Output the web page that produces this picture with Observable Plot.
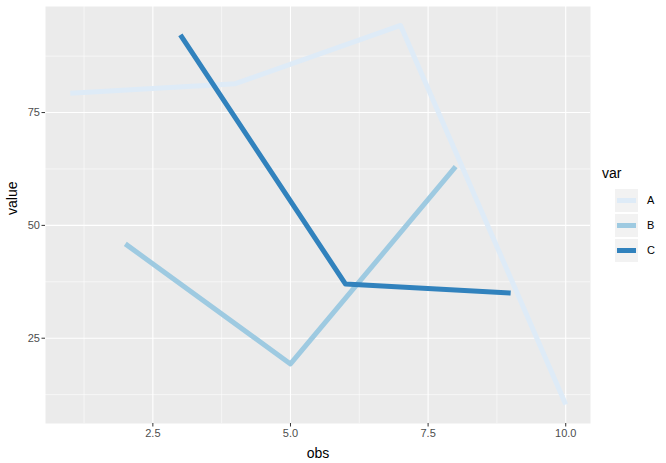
<!DOCTYPE html>
<html><head><meta charset="utf-8">
<script src="https://cdn.jsdelivr.net/npm/d3@7"></script>
<script src="https://cdn.jsdelivr.net/npm/@observablehq/plot@0.6"></script>
<style>
body{margin:0;background:#fff;font-family:"Liberation Sans",Arial,sans-serif}
#wrap{position:relative;width:666px;height:463px;overflow:hidden}
#legend{position:absolute;left:600px;top:160px;width:66px}
</style>
</head><body><div id="wrap"><div id="chart"></div><div id="legend"></div></div>
<script>
const series = ["A", "B", "C"];
const colors = ["#DEEBF7", "#9ECAE1", "#3182BD"];
const obsA = [1, 4, 7, 10];
const valA = [79.3, 81.4, 94.3, 10.3];
const obsB = [2, 5, 8];
const valB = [45.9, 19.3, 63.0];
const obsC = [3, 6, 9];
const valC = [92.2, 37.0, 35.0];
const xTicks = [2.5, 5, 7.5, 10];
const xTickLabels = ["2.5", "5.0", "7.5", "10.0"];
const xMinor = [1.25, 3.75, 6.25, 8.75];
const yTicks = [25, 50, 75];
const yMinor = [12.5, 37.5, 62.5, 87.5];

const data = [];
[[obsA, valA, "A"], [obsB, valB, "B"], [obsC, valC, "C"]].forEach(([xs, ys, k]) => {
  xs.forEach((x, i) => data.push({obs: x, value: ys[i], var: k}));
});
const xe = d3.extent(data, d => d.obs), ye = d3.extent(data, d => d.value);
const xpad = (xe[1] - xe[0]) * 0.05, ypad = (ye[1] - ye[0]) * 0.05;

const chart = Plot.plot({
  width: 666, height: 463,
  marginLeft: 45, marginRight: 76, marginTop: 6, marginBottom: 40,
  style: {fontFamily: '"Liberation Sans", Arial, sans-serif', fontSize: "11px", background: "transparent"},
  x: {domain: [xe[0] - xpad, xe[1] + xpad]},
  y: {domain: [ye[0] - ypad, ye[1] + ypad]},
  color: {domain: series, range: colors},
  marks: [
    Plot.frame({fill: "#EBEBEB", stroke: null}),
    Plot.ruleX(xMinor, {stroke: "#ffffff", strokeWidth: 0.55}),
    Plot.ruleY(yMinor, {stroke: "#ffffff", strokeWidth: 0.55}),
    Plot.ruleX(xTicks, {stroke: "#ffffff", strokeWidth: 1.1}),
    Plot.ruleY(yTicks, {stroke: "#ffffff", strokeWidth: 1.1}),
    Plot.line(data, {x: "obs", y: "value", z: "var", stroke: "var", strokeWidth: 5, strokeLinecap: "butt", strokeLinejoin: "round"}),
    Plot.axisX(xTicks, {tickSize: 3.5, tickPadding: 2, stroke: "#333333", color: "#4D4D4D", fontSize: 11,
      tickFormat: (d, i) => xTickLabels[i], label: null}),
    Plot.axisY(yTicks, {tickSize: 3.5, tickPadding: 2, stroke: "#333333", color: "#4D4D4D", fontSize: 11, label: null}),
    Plot.text(["obs"], {frameAnchor: "bottom", dy: 34, fontSize: 14, fill: "#000"}),
    Plot.text(["value"], {frameAnchor: "left", dx: -33, rotate: -90, fontSize: 14, fill: "#000"})
  ]
});
document.getElementById("chart").appendChild(chart);

// legend
const lg = d3.select("#legend").append("svg").attr("width", 66).attr("height", 110)
  .style("font-family", '"Liberation Sans", Arial, sans-serif');
lg.append("text").attr("x", 2).attr("y", 18).attr("font-size", 14).text("var");
series.forEach((s, i) => {
  const y0 = 29 + i * 25;
  lg.append("rect").attr("x", 15).attr("y", y0).attr("width", 23).attr("height", 23).attr("fill", "#F2F2F2");
  lg.append("line").attr("x1", 17).attr("x2", 36).attr("y1", y0 + 11.5).attr("y2", y0 + 11.5)
    .attr("stroke", colors[i]).attr("stroke-width", 5);
  lg.append("text").attr("x", 47).attr("y", y0 + 11.5).attr("dy", "0.35em").attr("font-size", 11).attr("fill", "#000").text(s);
});
</script>
</body></html>
